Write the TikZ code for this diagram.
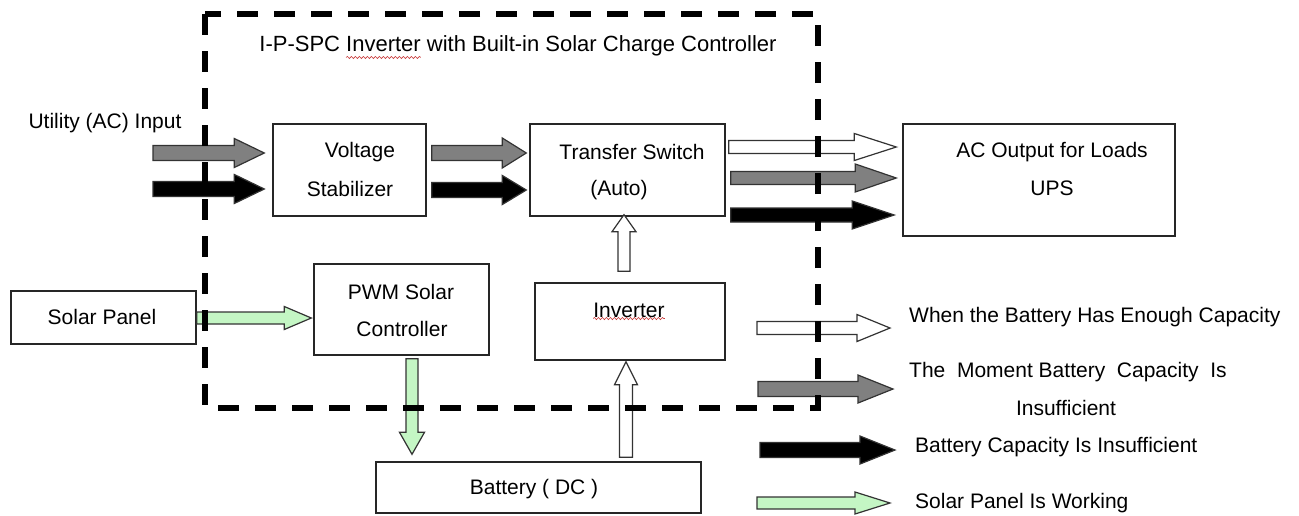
\documentclass[tikz,border=0pt]{standalone}
\usepackage{fontspec}
\setmainfont{Liberation Sans}
\usetikzlibrary{calc,decorations.pathmorphing}
\definecolor{garrow}{RGB}{128,128,128}
\definecolor{lgreen}{RGB}{196,246,196}
\definecolor{squig}{RGB}{200,60,60}
% #1 fill, #2 tail, #3 tip, #4 shaft half width, #5 head half width, #6 head length
\newcommand{\blockarrow}[6]{%
  \coordinate (ahb) at ($(#3)!#6!(#2)$);
  \draw[arrowline, fill=#1] ($(#2)!#4!90:(#3)$) -- ($(ahb)!#4!90:(#3)$) -- ($(ahb)!#5!90:(#3)$) -- (#3)
     -- ($(ahb)!#5!-90:(#3)$) -- ($(ahb)!#4!-90:(#3)$) -- ($(#2)!#4!-90:(#3)$) -- cycle;}
\begin{document}
\begin{tikzpicture}[x=1pt,y=-1pt,
  every node/.style={font=\fontsize{21}{25}\selectfont},
  box/.style={draw=black!85, line width=1.4pt, inner sep=0pt, fill=white},
  txt/.style={inner sep=0pt},
  arrowline/.style={draw=black!80, line width=1.2pt, line join=miter},
  frame/.style={line width=6pt, dash pattern=on 21pt off 16pt},
  squiggle/.style={draw=squig, line width=0.6pt, decorate, decoration={snake, segment length=4pt, amplitude=1.1pt}}]
\useasboundingbox (0,0) rectangle (1299,515);

% boxes
\node[box, minimum width=153, minimum height=92]  (vs)  at (349.5,170) {};
\node[box, minimum width=195, minimum height=92]  (ts)  at (627.5,170) {};
\node[box, minimum width=272, minimum height=112] (ac)  at (1039,180) {};
\node[box, minimum width=185, minimum height=53]  (sp)  at (103.5,317.5) {};
\node[box, minimum width=175, minimum height=91]  (pwm) at (401.5,309.5) {};
\node[box, minimum width=190, minimum height=77]  (inv) at (630,321.5) {};
\node[box, minimum width=325, minimum height=51]  (bat) at (538.5,487.5) {};

% texts
\node[txt, font=\fontsize{22}{26}\selectfont] (title) at (518,46) {I-P-SPC Inverter with Built-in Solar Charge Controller};
\node[txt] (util) at (105,123) {Utility (AC) Input};
\node[txt] (vst1) at (360,152) {Voltage};
\node[txt] (vst2) at (350,189) {Stabilizer};
\node[txt] (tst1) at (632,152) {Transfer Switch};
\node[txt] (tst2) at (619,190) {(Auto)};
\node[txt] (act1) at (1052,152) {AC Output for Loads};
\node[txt] (act2) at (1052,188) {UPS};
\node[txt] (spt)  at (102,317) {Solar Panel};
\node[txt] (pwt1) at (401,292) {PWM Solar};
\node[txt] (pwt2) at (402,329) {Controller};
\node[txt] (invt) at (629,310) {Inverter};
\node[txt] (batt) at (534,489) {Battery ( DC )};
\node[txt, anchor=west] (lg1) at (909,317) {When the Battery Has Enough Capacity};
\node[txt, anchor=west] (lg2a) at (909,372) {The~~Moment Battery~~Capacity~~Is};
\node[txt] (lg2b) at (1066,408) {Insufficient};
\node[txt, anchor=west] (lg3) at (915,447) {Battery Capacity Is Insufficient};
\node[txt, anchor=west] (lg4) at (915,503) {Solar Panel Is Working};

% spell-check squiggles
\draw[squiggle] ($(title.south west)!0.168!(title.south east)+(0,1)$) -- ($(title.south west)!0.312!(title.south east)+(0,1)$);
\draw[squiggle] ($(invt.south west)+(0,1)$) -- ($(invt.south east)+(0,1)$);

% arrow end points
\coordinate (gin1) at (153,153);
\coordinate (gin2) at ($(vs.west)+(-8,-17)$);
\coordinate (bin1) at (153,189);
\coordinate (bin2) at ($(vs.west)+(-8,19)$);
\coordinate (gm1) at ($(vs.east)+(5,-17)$);
\coordinate (gm2) at ($(ts.west)+(-3,-17)$);
\coordinate (bm1) at ($(vs.east)+(5,20)$);
\coordinate (bm2) at ($(ts.west)+(-3,20)$);
\coordinate (wo1) at ($(ts.east)+(3,-23)$);
\coordinate (wo2) at ($(ac.west)+(-6,-33)$);
\coordinate (go1) at ($(ts.east)+(5,8)$);
\coordinate (go2) at ($(ac.west)+(-6,-2)$);
\coordinate (bo1) at ($(ts.east)+(5,45)$);
\coordinate (bo2) at ($(ac.west)+(-8,35)$);
\coordinate (it1) at ($(inv.north)+(-6,-11)$);
\coordinate (it2) at ($(ts.south)+(-3.5,-2)$);
\coordinate (bi1) at ($(bat.north)+(87.5,-4)$);
\coordinate (bi2) at ($(inv.south)+(-4,1)$);
\coordinate (pb1) at ($(pwm.south)+(10.5,3)$);
\coordinate (pb2) at ($(bat.north)+(-126.5,-7)$);
\coordinate (sp1) at ($(sp.east)+(0,0.5)$);
\coordinate (sp2) at ($(pwm.west)+(-2,8.5)$);
\coordinate (lw1) at (757,328);
\coordinate (lw2) at (890,328);
\coordinate (lgy1) at (758,389);
\coordinate (lgy2) at (893,389);
\coordinate (lb1) at (760,450);
\coordinate (lb2) at (895,450);
\coordinate (lgr1) at (757,503);
\coordinate (lgr2) at (890,503);

% block arrows
\blockarrow{garrow}{gin1}{gin2}{7.5pt}{14.5pt}{30pt}
\blockarrow{black}{bin1}{bin2}{7.5pt}{14.5pt}{30pt}
\blockarrow{garrow}{gm1}{gm2}{7.5pt}{15pt}{24pt}
\blockarrow{black}{bm1}{bm2}{7.5pt}{14.5pt}{24pt}
\blockarrow{white}{wo1}{wo2}{6.5pt}{13.5pt}{42pt}
\blockarrow{garrow}{go1}{go2}{6.5pt}{14pt}{41pt}
\blockarrow{black}{bo1}{bo2}{7pt}{14pt}{42pt}
\blockarrow{white}{it1}{it2}{6pt}{12pt}{17pt}
\blockarrow{white}{bi1}{bi2}{6.5pt}{11.5pt}{23pt}
\blockarrow{lgreen}{pb1}{pb2}{6pt}{12.5pt}{22pt}
\blockarrow{lgreen}{sp1}{sp2}{6pt}{11.5pt}{27pt}
\blockarrow{white}{lw1}{lw2}{6.5pt}{13.5pt}{33pt}
\blockarrow{garrow}{lgy1}{lgy2}{7.5pt}{14pt}{35pt}
\blockarrow{black}{lb1}{lb2}{7.5pt}{14pt}{35pt}
\blockarrow{lgreen}{lgr1}{lgr2}{6pt}{11pt}{35pt}

% dashed frame of the inverter
\draw[frame] (205,14) rectangle (818,408);
\end{tikzpicture}
\end{document}
